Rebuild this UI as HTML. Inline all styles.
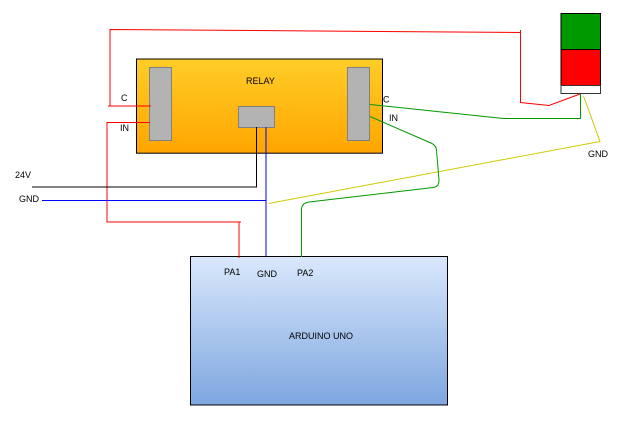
<!DOCTYPE html>
<html>
<head>
<meta charset="utf-8">
<style>
html,body{margin:0;padding:0;background:#fff;}
svg{display:block;}
text{font-family:"Liberation Sans",sans-serif;font-size:9px;fill:#000;}
</style>
</head>
<body>
<svg width="626" height="426" viewBox="0 0 626 426" xmlns="http://www.w3.org/2000/svg">
<defs>
<linearGradient id="g1" x1="0" y1="0" x2="0" y2="1"><stop offset="0" stop-color="#ffcd28"/><stop offset="1" stop-color="#ffa500"/></linearGradient>
<linearGradient id="g2" x1="0" y1="0" x2="0" y2="1"><stop offset="0" stop-color="#dae8fc"/><stop offset="1" stop-color="#7ea6e0"/></linearGradient>
</defs>
<rect x="136.5" y="59" width="246" height="94.200" fill="url(#g1)" stroke="#000"/>
<rect x="149.5" y="67.5" width="22" height="73" fill="#b3b3b3" stroke="#808080"/>
<rect x="347.5" y="67.5" width="22" height="73" fill="#b3b3b3" stroke="#808080"/>
<rect x="238.5" y="106.5" width="36" height="21" fill="#b3b3b3" stroke="#808080"/>
<rect x="190.5" y="256.500" width="257" height="148.500" fill="url(#g2)" stroke="#000"/>
<rect x="561" y="13.500" width="39.500" height="36" fill="#009900" stroke="#000"/>
<rect x="561" y="49.500" width="39.500" height="36" fill="#ff0000" stroke="#000"/>
<rect x="561" y="85.500" width="39.500" height="8" fill="#fff" stroke="#333"/>
<g fill="none" stroke-width="1">
<path d="M108 106H151M110 106V29.500L520.500 32.500M520.500 30V102.500L549 105.500L580 94" stroke="#ff0000"/>
<path d="M150 122.500H107V222H241M239 222V258" stroke="#ff0000"/>
<path d="M256.500 127V187H32" stroke="#000"/>
<path d="M266 127V256M42 200.500H266" stroke="#0000ff"/>
<path d="M268.500 203.500L600 141.500L583.500 96" stroke="#cccc00"/>
<path d="M370 104.500L503.500 118.500H580.500V94" stroke="#009900"/>
<path d="M370 116.500L432 143.500Q436 145.500 436.500 150L439 180Q439 187 433 187.500L309 202Q301.500 203 301.500 210V257" stroke="#009900"/>
</g>
<text x="121" y="101">C</text>
<text x="120" y="131">IN</text>
<text x="246" y="84">RELAY</text>
<text x="383" y="102.500">C</text>
<text x="389" y="121">IN</text>
<text x="588" y="157">GND</text>
<text x="15" y="178">24V</text>
<text x="19" y="202">GND</text>
<text x="224" y="275">PA1</text>
<text x="257" y="277">GND</text>
<text x="297" y="276">PA2</text>
<text x="289" y="339">ARDUINO UNO</text>
</svg>
</body>
</html>
